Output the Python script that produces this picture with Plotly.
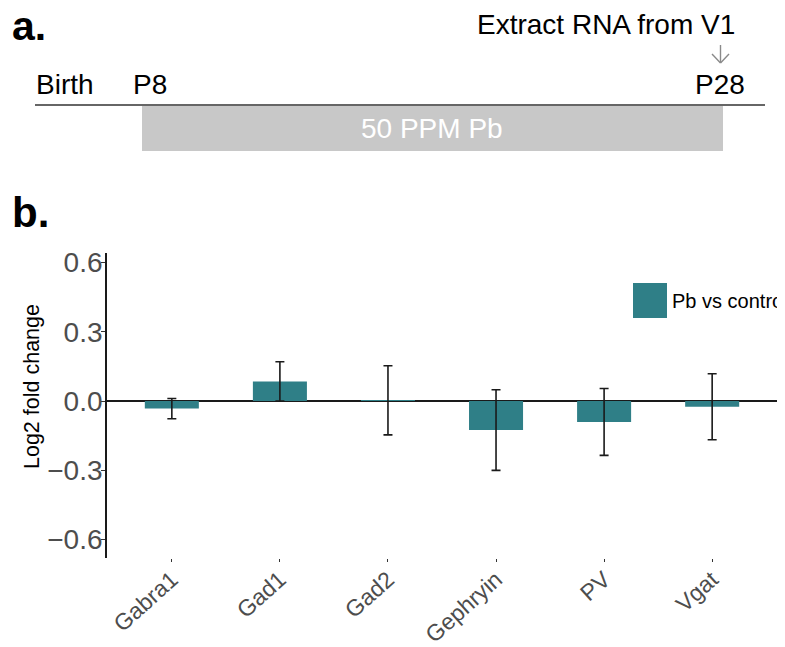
import plotly.graph_objects as go

# ---------------- data ----------------
genes = ["Gabra1", "Gad1", "Gad2", "Gephryin", "PV", "Vgat"]
log2fc = [-0.033, 0.085, 0.003, -0.126, -0.091, -0.025]
err = [0.044, 0.085, 0.150, 0.175, 0.145, 0.143]
series_name = "Pb vs control"
y_ticks = [-0.6, -0.3, 0.0, 0.3, 0.6]
y_tick_text = ["\u22120.6", "\u22120.3", "0.0", "0.3", "0.6"]

timeline_labels = ["Birth", "P8", "P28"]
exposure_label = "50 PPM Pb"
extract_label = "Extract RNA from V1"

# ---------------- layout helpers ----------------
# page body has an 8px default margin, so the figure is shifted by 8px
OFF = 8
W, H = 785 - OFF, 647 - OFF
def px(x):
    return (x - OFF) / W
def py(y):
    return 1 - (y - OFF) / H

FONT = "Liberation Sans, Arial, Helvetica, sans-serif"
TEAL = "#2F7F87"
GREY_TXT = "#4D4D4D"

fig = go.Figure()
fig.add_trace(go.Bar(
    x=genes, y=log2fc, width=0.5, name=series_name,
    marker=dict(color=TEAL, line=dict(width=0)),
    error_y=dict(type="data", array=err, visible=True,
                 color="#1a1a1a", thickness=1.6, width=4.5),
    showlegend=False,
))

shapes = []
annotations = []

# ----- panel a: timeline -----
shapes.append(dict(type="rect", xref="paper", yref="paper",
                   x0=px(142), x1=px(723), y0=py(151), y1=py(106),
                   fillcolor="#C8C8C8", line=dict(width=0), layer="below"))
shapes.append(dict(type="line", xref="paper", yref="paper",
                   x0=px(35), x1=px(765), y0=py(105), y1=py(105),
                   line=dict(color="#333333", width=1.5)))
# arrow
for (x0, y0, x1, y1) in [(720.5, 45, 720.5, 63), (712, 54, 720.5, 63), (729, 54, 720.5, 63)]:
    shapes.append(dict(type="line", xref="paper", yref="paper",
                       x0=px(x0), x1=px(x1), y0=py(y0), y1=py(y1),
                       line=dict(color="#8a8a8a", width=1.4)))

annotations.append(dict(text="<b>a.</b>", x=px(10), y=py(26), xref="paper", yref="paper",
                        xanchor="left", yanchor="middle", showarrow=False,
                        font=dict(family=FONT, size=41, color="black")))
annotations.append(dict(text="<b>b.</b>", x=px(10), y=py(213), xref="paper", yref="paper",
                        xanchor="left", yanchor="middle", showarrow=False,
                        font=dict(family=FONT, size=42, color="black")))
annotations.append(dict(text=extract_label, x=px(737), y=py(24), xref="paper", yref="paper",
                        xanchor="right", yanchor="middle", showarrow=False,
                        font=dict(family=FONT, size=28, color="black")))
annotations.append(dict(text=timeline_labels[0], x=px(34), y=py(85), xref="paper", yref="paper",
                        xanchor="left", yanchor="middle", showarrow=False,
                        font=dict(family=FONT, size=28, color="black")))
annotations.append(dict(text=timeline_labels[1], x=px(131), y=py(85), xref="paper", yref="paper",
                        xanchor="left", yanchor="middle", showarrow=False,
                        font=dict(family=FONT, size=28, color="black")))
annotations.append(dict(text=timeline_labels[2], x=px(747), y=py(85), xref="paper", yref="paper",
                        xanchor="right", yanchor="middle", showarrow=False,
                        font=dict(family=FONT, size=28, color="black")))
annotations.append(dict(text=exposure_label, x=px(432), y=py(128), xref="paper", yref="paper",
                        xanchor="center", yanchor="middle", showarrow=False,
                        font=dict(family=FONT, size=28, color="white")))

# ----- panel b extras -----
annotations.append(dict(text="Log2 fold change", x=px(32), y=py(387), xref="paper", yref="paper",
                        xanchor="center", yanchor="middle", textangle=-90, showarrow=False,
                        font=dict(family=FONT, size=21.5, color="black")))
# legend key
shapes.append(dict(type="rect", xref="paper", yref="paper",
                   x0=px(633), x1=px(667), y0=py(318), y1=py(283),
                   fillcolor=TEAL, line=dict(width=0)))
annotations.append(dict(text=series_name, x=px(670), y=py(301), xref="paper", yref="paper",
                        xanchor="left", yanchor="middle", showarrow=False,
                        font=dict(family=FONT, size=20, color="black")))

fig.update_layout(
    width=W, height=H,
    margin=dict(l=0, r=0, t=0, b=0),
    paper_bgcolor="white", plot_bgcolor="white",
    template="none",
    font=dict(family=FONT),
    shapes=shapes, annotations=annotations,
    showlegend=False,
    bargap=0.5,
    xaxis=dict(domain=[px(107), px(777)], range=[-0.6, 5.6],
               showline=False, showgrid=False, zeroline=False,
               ticks="outside", ticklen=3, tickcolor="#333333", tickwidth=1,
               tickangle=-42, ticklabelstandoff=-5,
               tickfont=dict(family=FONT, size=23, color=GREY_TXT),
               automargin=False),
    yaxis=dict(domain=[py(558), py(253)], range=[-0.681, 0.642],
               tickvals=y_ticks, ticktext=y_tick_text,
               showline=True, linecolor="#1a1a1a", linewidth=1.8,
               showgrid=False, zeroline=True, zerolinecolor="#1a1a1a", zerolinewidth=1.6,
               ticks="outside", ticklen=4, tickcolor="#333333", tickwidth=1,
               ticklabelstandoff=-7,
               tickfont=dict(family=FONT, size=28, color=GREY_TXT),
               automargin=False),
)

fig.write_html("out.html")
